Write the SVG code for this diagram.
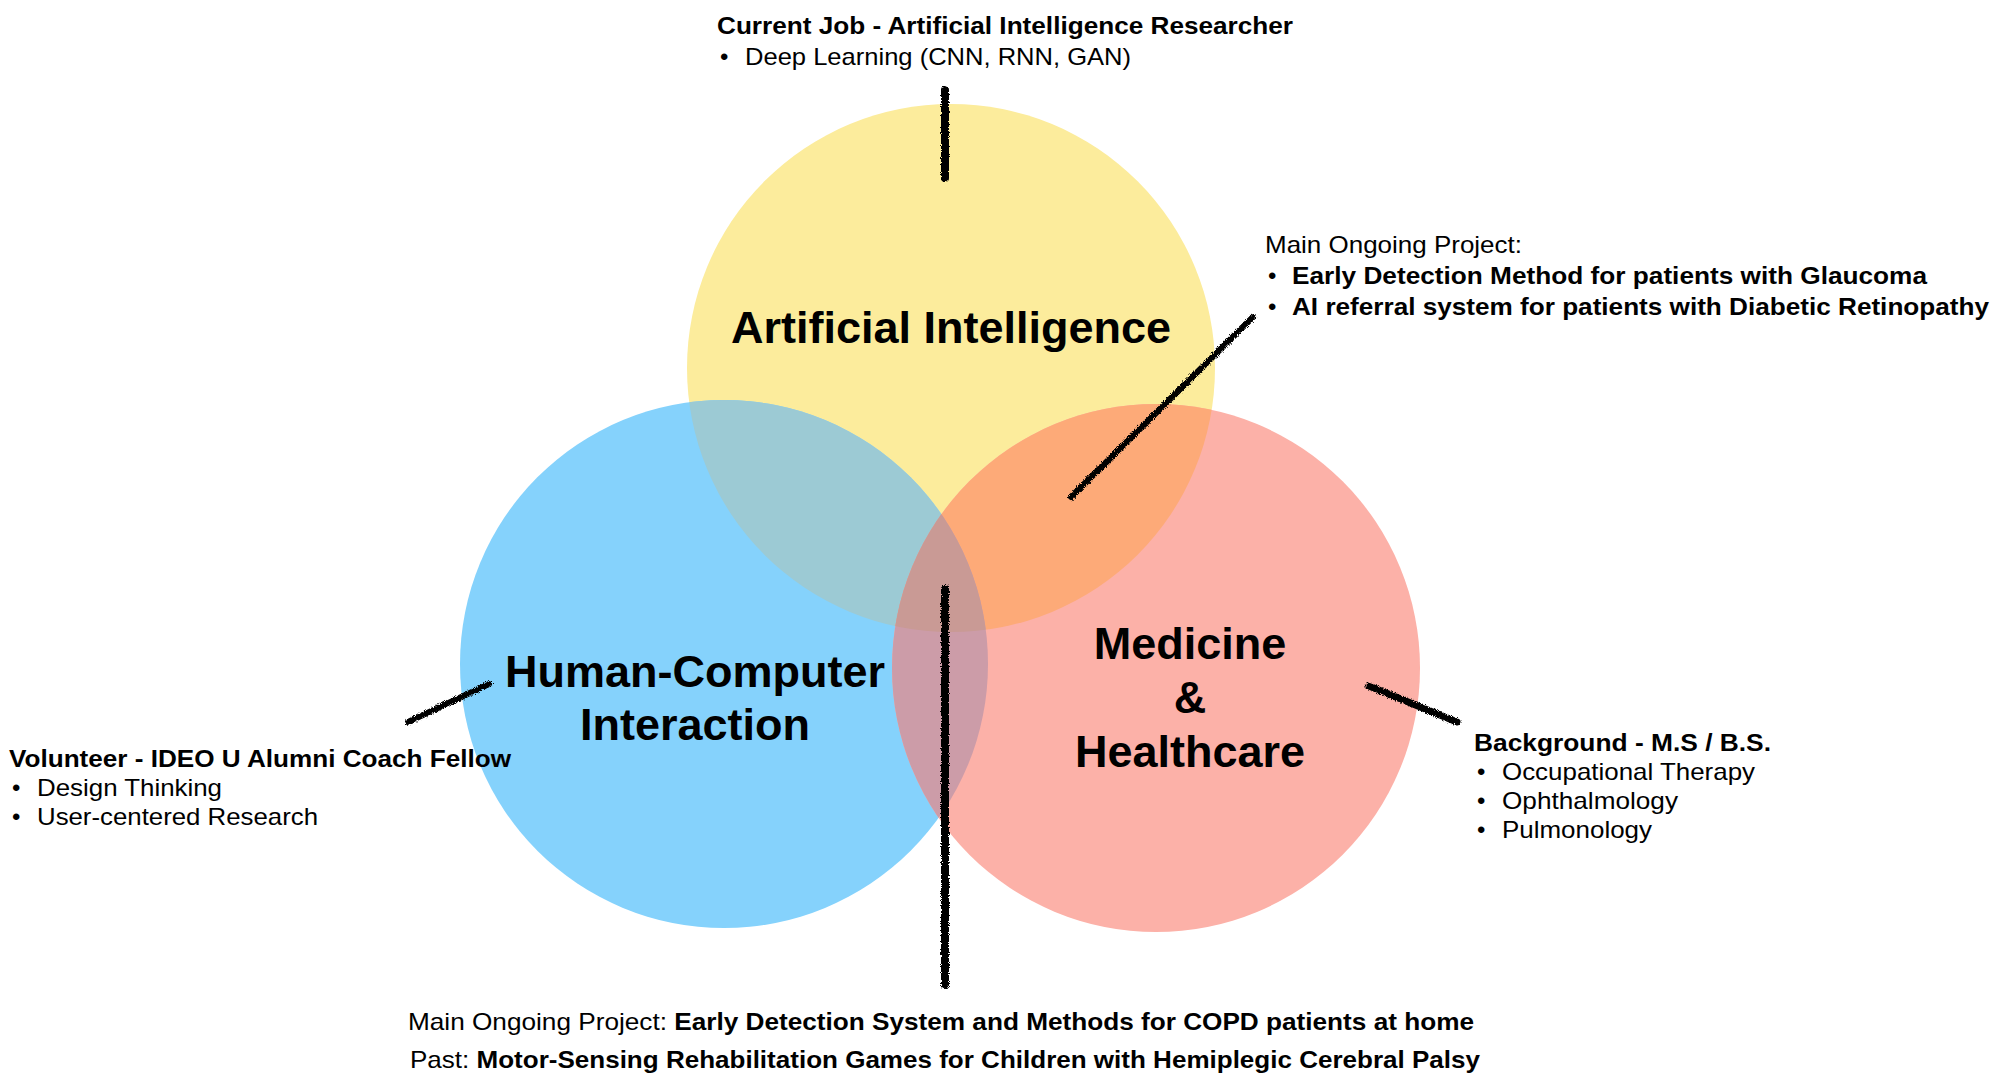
<svg xmlns="http://www.w3.org/2000/svg" width="2000" height="1085" viewBox="0 0 2000 1085">
<style>
  text { font-family: "Liberation Sans", Arial, Helvetica, sans-serif; fill: #000; }
  .sm { font-size: 24px; }
  .b { font-weight: bold; }
  .big { font-size: 45px; font-weight: bold; text-anchor: middle; }
  .conn { stroke: #000; fill: none; stroke-linecap: round; }
</style>
<defs>
  <clipPath id="cY"><circle cx="951" cy="368" r="264"/></clipPath>
  <clipPath id="cB"><circle cx="724" cy="664" r="264"/></clipPath>
  <filter id="rough" filterUnits="userSpaceOnUse" x="0" y="0" width="2000" height="1085">
    <feTurbulence type="fractalNoise" baseFrequency="1.1" numOctaves="2" seed="3" result="n"/>
    <feDisplacementMap in="SourceGraphic" in2="n" scale="5" xChannelSelector="R" yChannelSelector="G"/>
  </filter>
</defs>
<rect width="2000" height="1085" fill="#fff"/>

<g id="circles">
  <circle cx="951" cy="368" r="264" fill="#FCEC9C"/>
  <circle cx="724" cy="664" r="264" fill="#85D2FC"/>
  <circle cx="1156" cy="668" r="264" fill="#FCB1A8"/>
  <circle cx="724" cy="664" r="264" fill="#9CCAD4" clip-path="url(#cY)"/>
  <circle cx="1156" cy="668" r="264" fill="#FDAA78" clip-path="url(#cY)"/>
  <circle cx="1156" cy="668" r="264" fill="#CC9CA8" clip-path="url(#cB)"/>
  <g clip-path="url(#cY)"><circle cx="1156" cy="668" r="264" fill="#C99A95" clip-path="url(#cB)"/></g>
</g>

<g id="node-ai">
  <text class="big" x="951" y="343">Artificial Intelligence</text>
</g>
<g id="node-hci">
  <text class="big" x="695" y="687">Human-Computer</text>
  <text class="big" x="695" y="740">Interaction</text>
</g>
<g id="node-med">
  <text class="big" x="1190" y="659">Medicine</text>
  <text class="big" x="1190" y="713">&amp;</text>
  <text class="big" x="1190" y="767">Healthcare</text>
</g>

<g id="connectors" filter="url(#rough)">
  <line class="conn" x1="945" y1="90" x2="945" y2="178" stroke-width="8"/>
  <line class="conn" x1="1253" y1="317" x2="1071" y2="497" stroke-width="6"/>
  <line class="conn" x1="489" y1="684" x2="408" y2="722" stroke-width="6"/>
  <line class="conn" x1="1369" y1="686" x2="1457" y2="722" stroke-width="7"/>
  <line class="conn" x1="945" y1="589" x2="945" y2="985" stroke-width="8"/>
</g>

<g id="label-top">
  <text class="sm b" x="717" y="34" textLength="576" lengthAdjust="spacingAndGlyphs">Current Job - Artificial Intelligence Researcher</text>
  <text class="sm" x="720" y="65">•</text>
  <text class="sm" x="745" y="65" textLength="386" lengthAdjust="spacingAndGlyphs">Deep Learning (CNN, RNN, GAN)</text>
</g>

<g id="label-topright">
  <text class="sm" x="1265" y="253" textLength="257" lengthAdjust="spacingAndGlyphs">Main Ongoing Project:</text>
  <text class="sm" x="1268" y="284">•</text>
  <text class="sm b" x="1292" y="284" textLength="635" lengthAdjust="spacingAndGlyphs">Early Detection Method for patients with Glaucoma</text>
  <text class="sm" x="1268" y="315">•</text>
  <text class="sm b" x="1292" y="315" textLength="697" lengthAdjust="spacingAndGlyphs">AI referral system for patients with Diabetic Retinopathy</text>
</g>

<g id="label-left">
  <text class="sm b" x="9" y="767" textLength="502" lengthAdjust="spacingAndGlyphs">Volunteer - IDEO U Alumni Coach Fellow</text>
  <text class="sm" x="12" y="796">•</text>
  <text class="sm" x="37" y="796" textLength="185" lengthAdjust="spacingAndGlyphs">Design Thinking</text>
  <text class="sm" x="12" y="825">•</text>
  <text class="sm" x="37" y="825" textLength="281" lengthAdjust="spacingAndGlyphs">User-centered Research</text>
</g>

<g id="label-right">
  <text class="sm b" x="1474" y="751" textLength="297" lengthAdjust="spacingAndGlyphs">Background - M.S / B.S.</text>
  <text class="sm" x="1477" y="780">•</text>
  <text class="sm" x="1502" y="780" textLength="253" lengthAdjust="spacingAndGlyphs">Occupational Therapy</text>
  <text class="sm" x="1477" y="809">•</text>
  <text class="sm" x="1502" y="809" textLength="176" lengthAdjust="spacingAndGlyphs">Ophthalmology</text>
  <text class="sm" x="1477" y="838">•</text>
  <text class="sm" x="1502" y="838" textLength="150" lengthAdjust="spacingAndGlyphs">Pulmonology</text>
</g>

<g id="label-bottom">
  <text class="sm" x="408" y="1030" textLength="1066" lengthAdjust="spacingAndGlyphs">Main Ongoing Project: <tspan class="b">Early Detection System and Methods for COPD patients at home</tspan></text>
  <text class="sm" x="410" y="1068" textLength="1070" lengthAdjust="spacingAndGlyphs">Past: <tspan class="b">Motor-Sensing Rehabilitation Games for Children with Hemiplegic Cerebral Palsy</tspan></text>
</g>
</svg>
